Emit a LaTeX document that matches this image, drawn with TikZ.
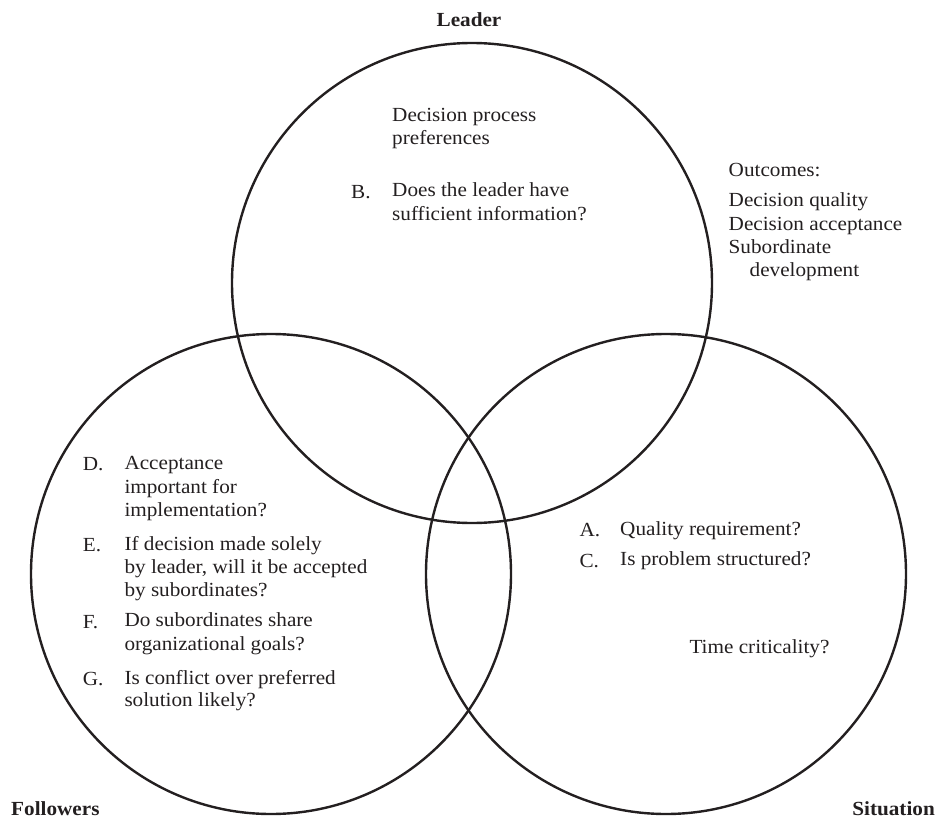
\documentclass[tikz,border=0pt]{standalone}
\usepackage{fontspec}
\setmainfont[FakeStretch=1.06]{Liberation Serif}
\definecolor{ink}{RGB}{35,31,32}
\tikzset{
  ring/.style={circle, draw=ink, line width=2.4pt, minimum size=480pt, inner sep=0pt},
  txt/.style={anchor=base west, inner sep=0pt, text=ink, font=\fontsize{20}{23}\selectfont},
  head/.style={inner sep=0pt, text=ink, font=\fontsize{20}{23}\selectfont\bfseries},
}
\begin{document}
\begin{tikzpicture}[x=1pt, y=-1pt]
\useasboundingbox (0,0) rectangle (938,819);

% the three overlapping domains
\node[ring] (leader)    at (472,283) {};
\node[ring] (followers) at (271,574) {};
\node[ring] (situation) at (666,574) {};

% domain titles
\node[head, anchor=base]      (tLeader)    at (469,26)  {Leader};
\node[head, anchor=base west] (tFollowers) at (11,815)  {Followers};
\node[head, anchor=base east] (tSituation) at (935,815) {Situation};

% leader questions
\node[txt] (dp1) at (392,121.7) {Decision process};
\node[txt] (dp2) at (392,144.5) {preferences};
\node[txt] (lB)  at (351,198.5) {B.};
\node[txt] (qB1) at (392,196.7) {Does the leader have};
\node[txt] (qB2) at (392,220)   {sufficient information?};

% outcomes
\node[txt] (out0) at (728.5,176)   {Outcomes:};
\node[txt] (out1) at (728.5,206.7) {Decision quality};
\node[txt] (out2) at (728.5,230)   {Decision acceptance};
\node[txt] (out3) at (728.5,253)   {Subordinate};
\node[txt] (out4) at (749.5,276)   {development};

% follower questions
\node[txt] (lD)  at (82.7,470)    {D.};
\node[txt] (qD1) at (124.3,469.3) {Acceptance};
\node[txt] (qD2) at (124.3,493)   {important for};
\node[txt] (qD3) at (124.3,516.7) {implementation?};
\node[txt] (lE)  at (82.7,551.5)  {E.};
\node[txt] (qE1) at (124.3,550)   {If decision made solely};
\node[txt] (qE2) at (124.3,573.3) {by leader, will it be accepted};
\node[txt] (qE3) at (124.3,596.7) {by subordinates?};
\node[txt] (lF)  at (82.7,628.5)  {F.};
\node[txt] (qF1) at (124.3,626.7) {Do subordinates share};
\node[txt] (qF2) at (124.3,650)   {organizational goals?};
\node[txt] (lG)  at (82.7,685.5)  {G.};
\node[txt] (qG1) at (124.3,684.3) {Is conflict over preferred};
\node[txt] (qG2) at (124.3,706.7) {solution likely?};

% situation questions
\node[txt] (lA)  at (579.3,536.5) {A.};
\node[txt] (qA)  at (620,535.7)   {Quality requirement?};
\node[txt] (lC)  at (579.3,567)   {C.};
\node[txt] (qC)  at (620,565)     {Is problem structured?};
\node[txt] (qT)  at (689.3,653.3) {Time criticality?};
\end{tikzpicture}
\end{document}
